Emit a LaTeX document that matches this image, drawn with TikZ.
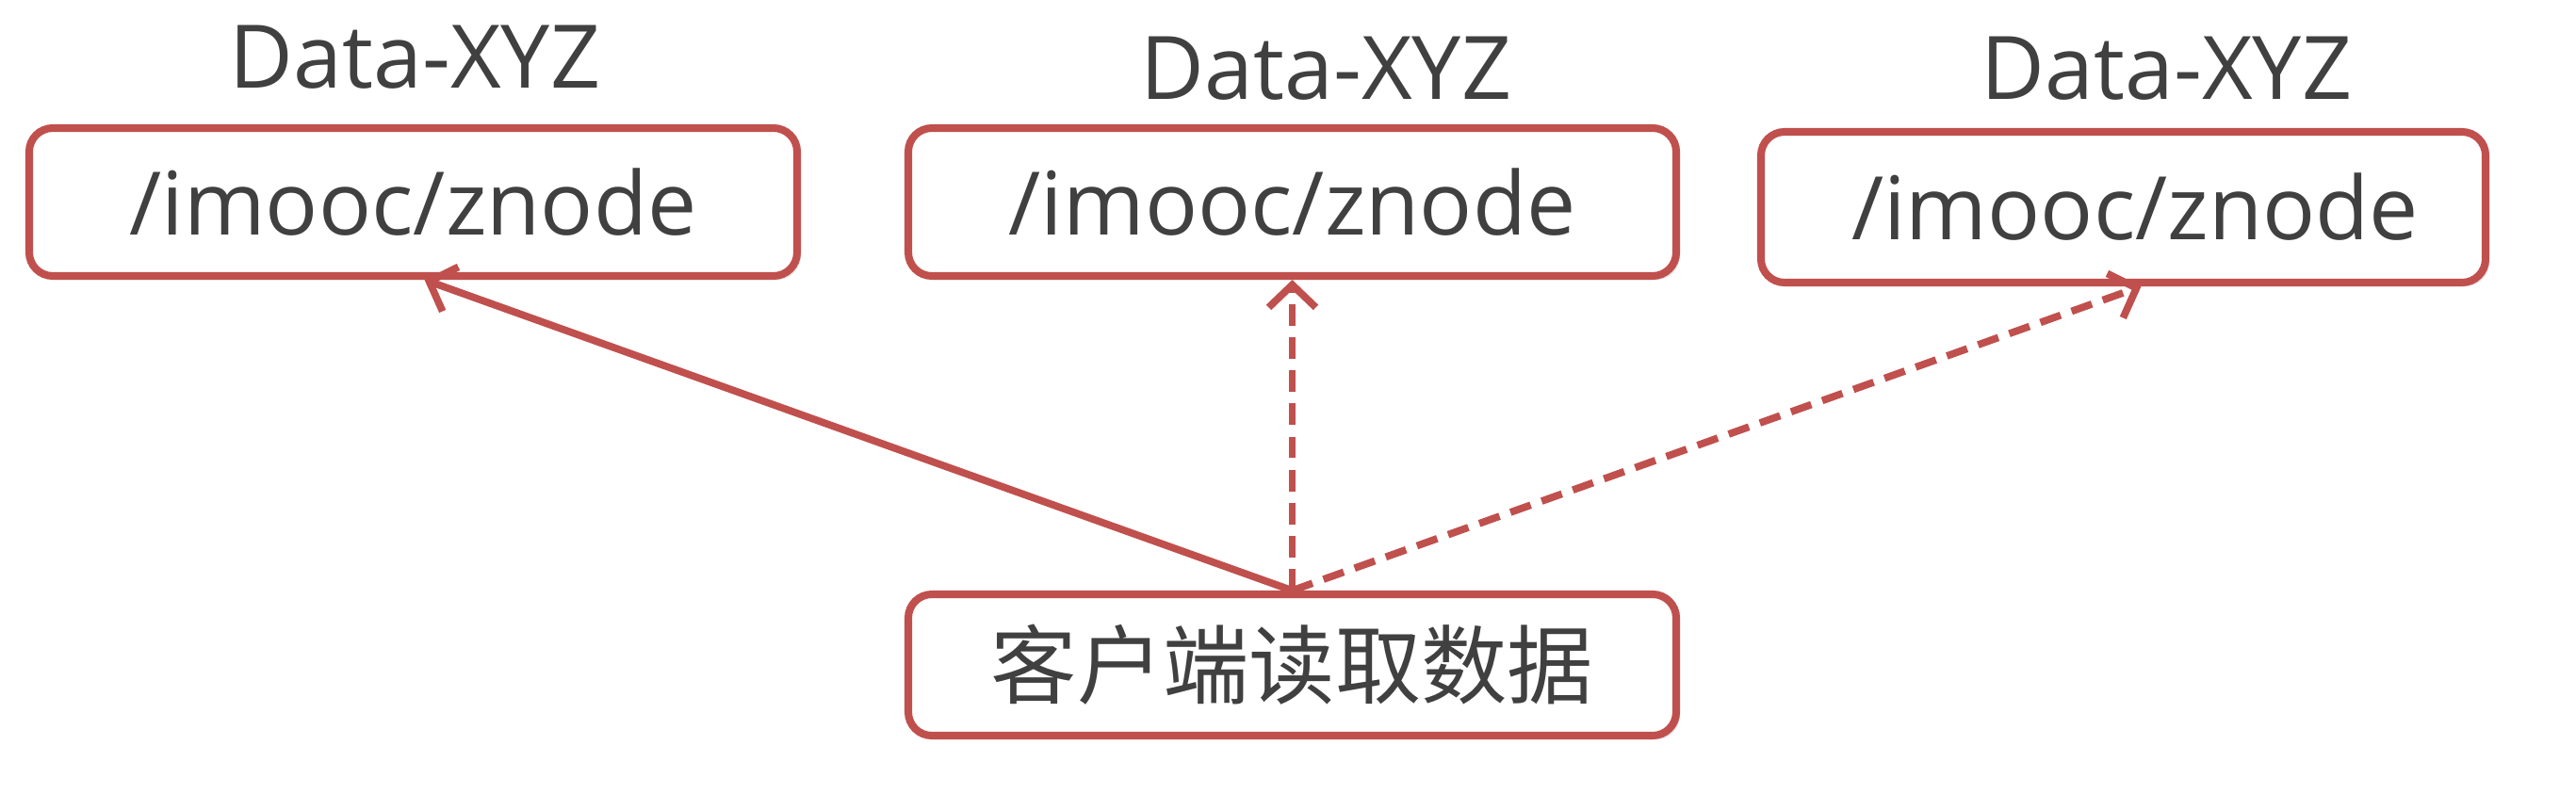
\documentclass[tikz,border=0pt]{standalone}
\usepackage{fontspec}
\setmainfont{Open Sans}
\newfontfamily\cjk{Noto Sans CJK SC}
\usetikzlibrary{arrows.meta, positioning, calc, shadows}
\definecolor{boxred}{HTML}{C0504D}
\definecolor{txtgray}{HTML}{404040}
\tikzset{
  znodebox/.style={draw=boxred, line width=2.3pt, rounded corners=0.25cm, fill=white,
    minimum width=8.15cm, minimum height=1.57cm, text=txtgray,
    font=\fontsize{26.5}{32}\selectfont,
    drop shadow={opacity=0.2, shadow xshift=0.04cm, shadow yshift=-0.04cm}},
  datalabel/.style={text=txtgray, font=\fontsize{26.5}{32}\selectfont, anchor=base, inner sep=0pt},
  readline/.style={draw=boxred, line width=2.2pt,
    -{Straight Barb[length=0.24cm, width=0.5cm, line width=2.2pt]}},
  readdash/.style={readline, dash pattern=on 6.5pt off 3.5pt}
}
\begin{document}
\begin{tikzpicture}
\useasboundingbox (0,0) rectangle (27.34,8.42);

% znode copies
\node[znodebox] (zn1) at (4.385,6.275) {/imooc/znode};
\node[znodebox] (zn2) at (13.715,6.275) {/imooc/znode};
\node[znodebox, minimum width=7.69cm, minimum height=1.6cm] (zn3) at (22.535,6.22) {\hspace*{0.25cm}/imooc/znode};

\node[datalabel] (dl1) at ($(zn1.north)+(0.02,0.38)$) {Data-XYZ};
\node[datalabel] (dl2) at ($(zn2.north)+(0.36,0.26)$) {Data-XYZ};
\node[datalabel] (dl3) at ($(zn3.north)+(0.46,0.30)$) {Data-XYZ};

% client
\node[znodebox, minimum height=1.5cm, font=\cjk\fontsize{26}{30}\selectfont] (client) at (13.715,1.36) {客户端读取数据};

\draw[readline] (client.north) -- ($(zn1.south)+(0.12,0)$);
\draw[readdash] (client.north) -- (zn2.south);
\draw[readdash] (client.north) -- ($(zn3.south)+(0.19,0)$);
\end{tikzpicture}
\end{document}
